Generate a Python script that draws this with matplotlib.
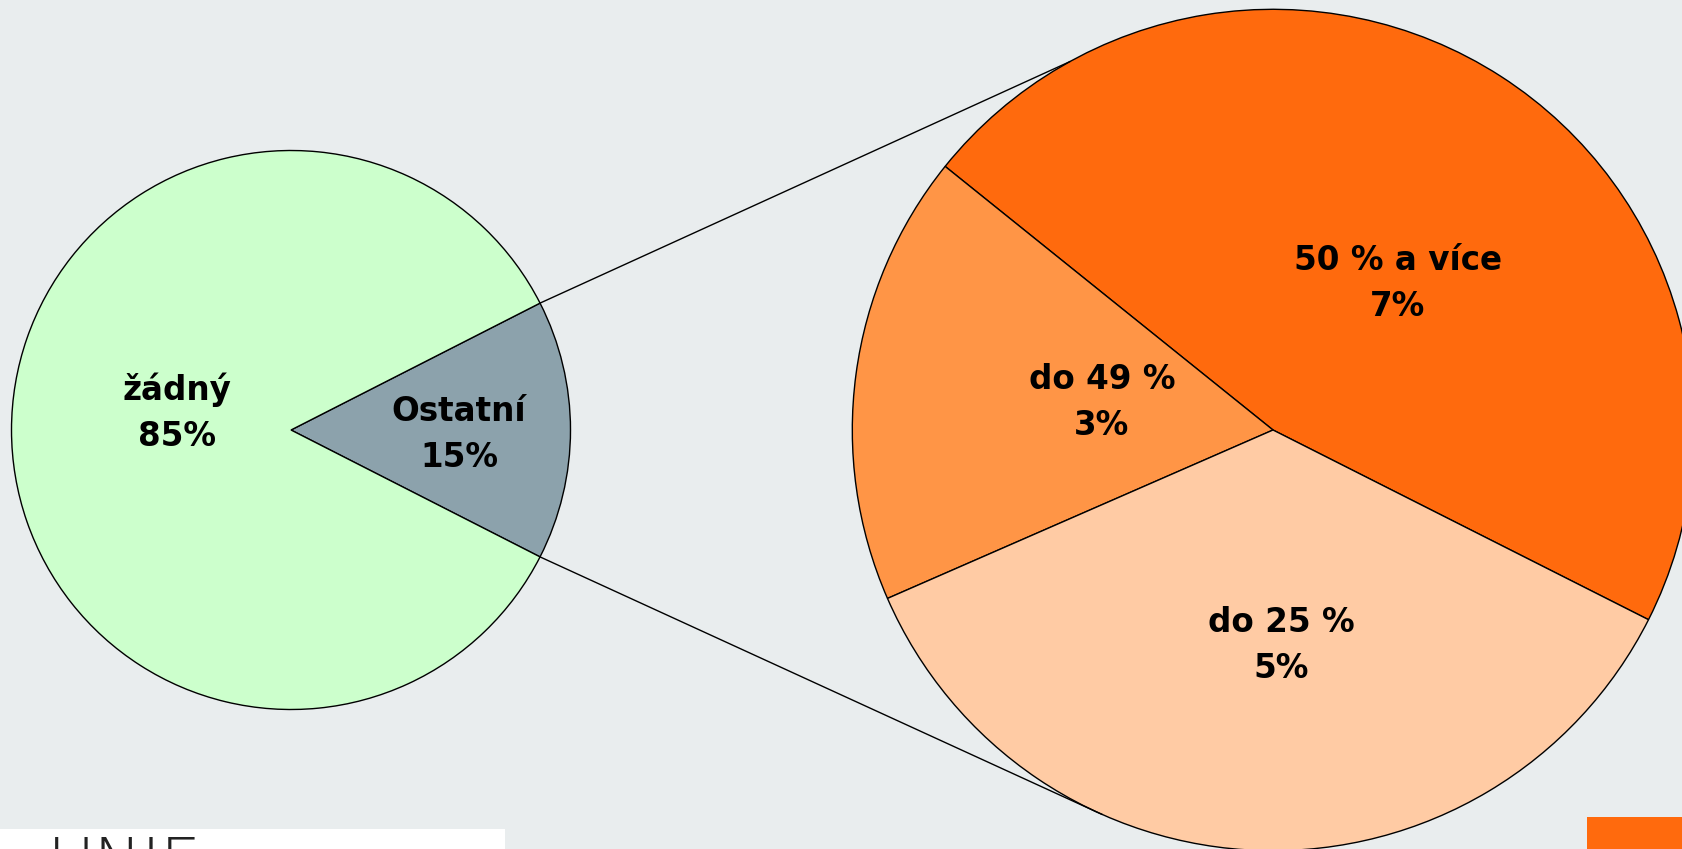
import numpy as np
import matplotlib.pyplot as plt
from matplotlib.patches import Rectangle

# ===============================
# Data
# ===============================
main_labels = ["Ostatní", "žádný"]
main_values = [15, 85]
main_colors = ["#8CA2AC", "#CCFFCC"]

detail_labels = ["50 % a více", "do 49 %", "do 25 %"]
detail_values = [7.0, 2.6, 5.4]
detail_colors = ["#FF6A0D", "#FF9546", "#FFCBA4"]

BG = "#E9EDEE"
W, H = 1682, 849
FS = 23.5
LS = 1.5

fig = plt.figure(figsize=(W / 100, H / 100), dpi=100, facecolor=BG)
ax = fig.add_axes([0, 0, 1, 1])
ax.set_facecolor(BG)

# ===============================
# Main pie
# ===============================
c1, r1 = (291, 419), 279.5
start1 = -main_values[0] / 100 * 360 / 2
wedges1, _ = ax.pie(
    main_values, colors=main_colors, startangle=start1,
    center=c1, radius=r1, frame=True,
    wedgeprops=dict(edgecolor="black", linewidth=1.0),
)

ax.text(459, H - 434, f"{main_labels[0]}\n{main_values[0]}%", ha="center", va="center",
        fontsize=FS, fontweight="bold", linespacing=LS)
ax.text(177, H - 413, f"{main_labels[1]}\n{main_values[1]}%", ha="center", va="center",
        fontsize=FS, fontweight="bold", linespacing=LS)

# ===============================
# Detail pie
# ===============================
c2, r2 = (1273, 419), 420.7
wedges2, _ = ax.pie(
    detail_values, colors=detail_colors, startangle=-26.8,
    center=c2, radius=r2, frame=True,
    wedgeprops=dict(edgecolor="black", linewidth=1.0),
)

label_pos = [(1398, 283), (1102, 402), (1281, 646)]
for (x, y), lab, v in zip(label_pos, detail_labels, detail_values):
    ax.text(x, H - y, f"{lab}\n{v:.0f}%", ha="center", va="center",
            fontsize=FS, fontweight="bold", linespacing=LS)

ax.set_xlim(0, W)
ax.set_ylim(0, H)
ax.set_aspect("equal")
ax.axis("off")

# ===============================
# Connector lines
# ===============================
half = np.deg2rad(main_values[0] / 100 * 360 / 2)
for sgn, ang2 in [(1, 118.9), (-1, 246.0)]:
    x0 = c1[0] + r1 * np.cos(half)
    y0 = c1[1] + sgn * r1 * np.sin(half)
    a = np.deg2rad(ang2)
    x1 = c2[0] + r2 * np.cos(a)
    y1 = c2[1] + r2 * np.sin(a)
    ax.plot([x0, x1], [y0, y1], color="black", linewidth=1.0)

# ===============================
# Footer bits (logo box, cut at the bottom edge)
# ===============================
ax.add_patch(Rectangle((0, 0), 505, H - 829, facecolor="white", edgecolor="none", zorder=5))
ax.text(48, H - 835, "UNIE", ha="left", va="top", fontsize=46, fontweight="light",
        color="#222222", zorder=6, clip_on=True)
ax.add_patch(Rectangle((1587, 0), W - 1587, H - 817, facecolor="#FF6A0D", edgecolor="none", zorder=5))

fig.savefig("out.png", dpi=100, facecolor=BG)
